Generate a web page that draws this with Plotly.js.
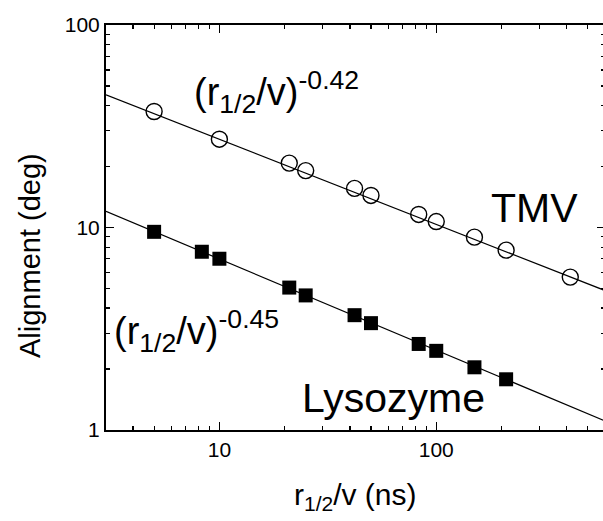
<!DOCTYPE html>
<html>
<head>
<meta charset="utf-8">
<script src="https://cdn.plot.ly/plotly-3.0.1.min.js"></script>
<style>
html, body { margin: 0; padding: 0; overflow: hidden; background: #fff; }
#chart { width: 606px; height: 521px; }
</style>
</head>
<body>
<div id="chart"></div>
<script>
// Data
const tmvX = [5, 10, 21, 25, 42, 50, 83, 100, 150, 210, 415];
const tmvY = [37.4, 27.3, 20.8, 19.1, 15.6, 14.4, 11.6, 10.7, 8.96, 7.73, 5.69];
const lysX = [5, 8.3, 10, 21, 25, 42, 50, 83, 100, 150, 210];
const lysY = [9.52, 7.59, 7.01, 5.05, 4.62, 3.69, 3.37, 2.66, 2.46, 2.04, 1.78];

// Power-law fits shown in the figure
const tmvExponent = -0.42, tmvPrefactor = 71.7;
const lysExponent = -0.45, lysPrefactor = 19.7;

// Axis ranges (data units)
const xRange = [3, 600];
const yRange = [1, 100];
const xTickVals = [10, 100];
const xTickText = ['10', '100'];
const yTickVals = [1, 10, 100];
const yTickText = ['1', '10', '100'];

const fitX = xRange.slice();
const tmvFit = fitX.map(x => tmvPrefactor * Math.pow(x, tmvExponent));
const lysFit = fitX.map(x => lysPrefactor * Math.pow(x, lysExponent));

const FONT = 'Liberation Sans, Arial, sans-serif';

const traces = [
  { x: fitX, y: tmvFit, mode: 'lines', line: { color: '#000', width: 1.2 }, hoverinfo: 'skip' },
  { x: fitX, y: lysFit, mode: 'lines', line: { color: '#000', width: 1.2 }, hoverinfo: 'skip' },
  { x: tmvX, y: tmvY, mode: 'markers',
    marker: { symbol: 'circle-open', size: 16, color: '#000', line: { color: '#000', width: 1.4 } } },
  { x: lysX, y: lysY, mode: 'markers',
    marker: { symbol: 'square', size: 14, color: '#000', line: { width: 0 } } }
];

const axisCommon = {
  type: 'log',
  showgrid: false,
  zeroline: false,
  showline: true,
  linecolor: '#000',
  linewidth: 2,
  mirror: 'ticks',
  ticks: 'inside',
  ticklen: 8,
  tickwidth: 1.5,
  tickcolor: '#000',
  tickfont: { family: FONT, size: 21, color: '#000' },
  minor: { ticks: 'inside', ticklen: 4, tickwidth: 1.2, tickcolor: '#000', dtick: 'D1', showgrid: false }
};

const layout = {
  width: 606, height: 521,
  margin: { l: 106, r: 1, t: 25, b: 91 },
  paper_bgcolor: '#fff', plot_bgcolor: '#fff',
  showlegend: false,
  font: { family: FONT, color: '#000' },
  xaxis: Object.assign({}, axisCommon, {
    range: xRange.map(Math.log10),
    tickmode: 'array', tickvals: xTickVals, ticktext: xTickText
  }),
  yaxis: Object.assign({}, axisCommon, {
    range: yRange.map(Math.log10),
    tickmode: 'array', tickvals: yTickVals, ticktext: yTickText
  }),
  annotations: [
    { xref: 'paper', yref: 'paper', x: 0.172, y: 0.835, xanchor: 'left', yanchor: 'middle',
      text: '(r<sub>1/2</sub>/v)<sup>-0.42</sup>', showarrow: false, font: { family: FONT, size: 38, color: '#000' } },
    { xref: 'paper', yref: 'paper', x: 0.012, y: 0.245, xanchor: 'left', yanchor: 'middle',
      text: '(r<sub>1/2</sub>/v)<sup>-0.45</sup>', showarrow: false, font: { family: FONT, size: 38, color: '#000' } },
    { xref: 'paper', yref: 'paper', x: 0.858, y: 0.548, xanchor: 'center', yanchor: 'middle',
      text: 'TMV', showarrow: false, font: { family: FONT, size: 41, color: '#000' } },
    { xref: 'paper', yref: 'paper', x: 0.576, y: 0.079, xanchor: 'center', yanchor: 'middle',
      text: 'Lysozyme', showarrow: false, font: { family: FONT, size: 41, color: '#000' } },
    { xref: 'paper', yref: 'paper', x: -0.152, y: 0.43, xanchor: 'center', yanchor: 'middle', textangle: -90,
      text: 'Alignment (deg)', showarrow: false, font: { family: FONT, size: 29, color: '#000' } },
    { xref: 'paper', yref: 'paper', x: 0.5, y: -0.165, xanchor: 'center', yanchor: 'middle',
      text: 'r<sub>1/2</sub>/v (ns)', showarrow: false, font: { family: FONT, size: 30, color: '#000' } }
  ]
};

Plotly.newPlot('chart', traces, layout, { staticPlot: true, displayModeBar: false });
</script>
</body>
</html>
